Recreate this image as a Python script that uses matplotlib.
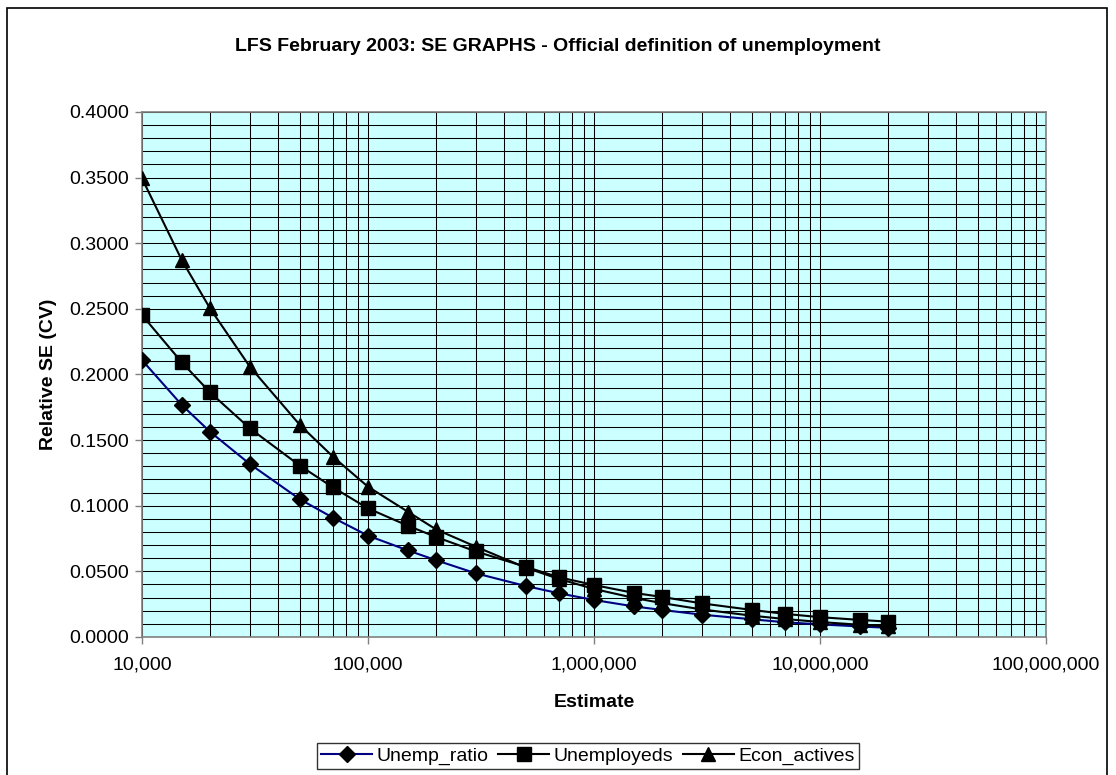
import numpy as np
import matplotlib.pyplot as plt
from matplotlib.ticker import FuncFormatter, FixedLocator, LogLocator, NullFormatter
from matplotlib.patches import Rectangle

# dati
estimate = [10000, 15000, 20000, 30000, 50000, 70000, 100000, 150000, 200000, 300000,
            500000, 700000, 1000000, 1500000, 2000000, 3000000, 5000000, 7000000,
            10000000, 15000000, 20000000]

unemp_ratio = [0.2110, 0.1768, 0.1564, 0.1318, 0.1049, 0.0909, 0.0772, 0.0660, 0.0585, 0.0485,
               0.0388, 0.0333, 0.0282, 0.0233, 0.0206, 0.0170, 0.0135, 0.0112, 0.0096, 0.0080, 0.0070]

unemployeds = [0.2453, 0.2093, 0.1864, 0.1590, 0.1305, 0.1140, 0.0980, 0.0848, 0.0762, 0.0652,
               0.0534, 0.0455, 0.0396, 0.0336, 0.0305, 0.0256, 0.0206, 0.0176, 0.0151, 0.0130, 0.0117]

econ_actives = [0.3495, 0.2872, 0.2504, 0.2060, 0.1615, 0.1374, 0.1145, 0.0955, 0.0820, 0.0688,
                0.0528, 0.0442, 0.0366, 0.0298, 0.0258, 0.0210, 0.0162, 0.0137, 0.0114, 0.0093, 0.0080]

y_ticks = [0.0, 0.05, 0.10, 0.15, 0.20, 0.25, 0.30, 0.35, 0.40]

plt.rcParams['font.family'] = ['Liberation Sans', 'DejaVu Sans']

fig = plt.figure(figsize=(11.16, 7.75), dpi=100)
ax = fig.add_axes([0.1272, 0.1781, 0.8100, 0.6774])
ax.set_facecolor('#CCFFFF')

# le tre serie
ax.plot(estimate, unemp_ratio, color='#000080', lw=1.5, marker='D', ms=8.5,
        mfc='black', mec='black', label='Unemp_ratio', zorder=3)
ax.plot(estimate, unemployeds, color='black', lw=1.5, marker='s', ms=9.5,
        mfc='black', mec='black', label='Unemployeds', zorder=3)
ax.plot(estimate, econ_actives, color='black', lw=1.5, marker='^', ms=10.5,
        mfc='black', mec='black', label='Econ_actives', zorder=3)

ax.set_xscale('log')
ax.set_xlim(1e4, 1e8)
ax.set_ylim(0, 0.4)

# assi e griglia
ax.xaxis.set_major_locator(LogLocator(base=10))
ax.xaxis.set_minor_locator(LogLocator(base=10, subs=np.arange(2, 10)))
ax.xaxis.set_minor_formatter(NullFormatter())
ax.xaxis.set_major_formatter(FuncFormatter(lambda v, p: f"{int(round(v)):,}"))
ax.yaxis.set_major_locator(FixedLocator(y_ticks))
ax.yaxis.set_minor_locator(FixedLocator(np.arange(0, 0.401, 0.01)))
ax.yaxis.set_major_formatter(FuncFormatter(lambda v, p: f"{v:.4f}"))

ax.grid(which='both', color='black', lw=0.75, zorder=1)
ax.set_axisbelow(True)

ax.tick_params(which='major', direction='out', length=5, width=1, color='#808080',
               labelsize=14, pad=4)
ax.tick_params(which='minor', length=0)
ax.tick_params(axis='x', pad=9)
for s in ax.spines.values():
    s.set_color('#808080')
    s.set_linewidth(1.2)

ax.set_xlabel('Estimate', fontsize=14, fontweight='bold', labelpad=15)
ax.set_ylabel('Relative SE (CV)', fontsize=14, fontweight='bold', labelpad=9)
fig.text(0.5, 0.94, 'LFS February 2003: SE GRAPHS - Official definition of unemployment',
         ha='center', va='center', fontsize=14, fontweight='bold')

leg = fig.legend(loc='center', bbox_to_anchor=(0.527, 0.0245), ncol=3, fontsize=14,
                 frameon=True, fancybox=False, handlelength=2.6, columnspacing=0.5,
                 handletextpad=0.25, borderpad=0.2, borderaxespad=0)
leg.get_frame().set_edgecolor('black')
leg.get_frame().set_linewidth(1.0)

# bordo del grafico
fig.patches.append(Rectangle((7 / 1116, -0.01), 1100 / 1116, 1 - 8 / 775 + 0.01,
                             transform=fig.transFigure, fill=False, edgecolor='black', lw=1.2))

fig.savefig('out.png', dpi=100)
